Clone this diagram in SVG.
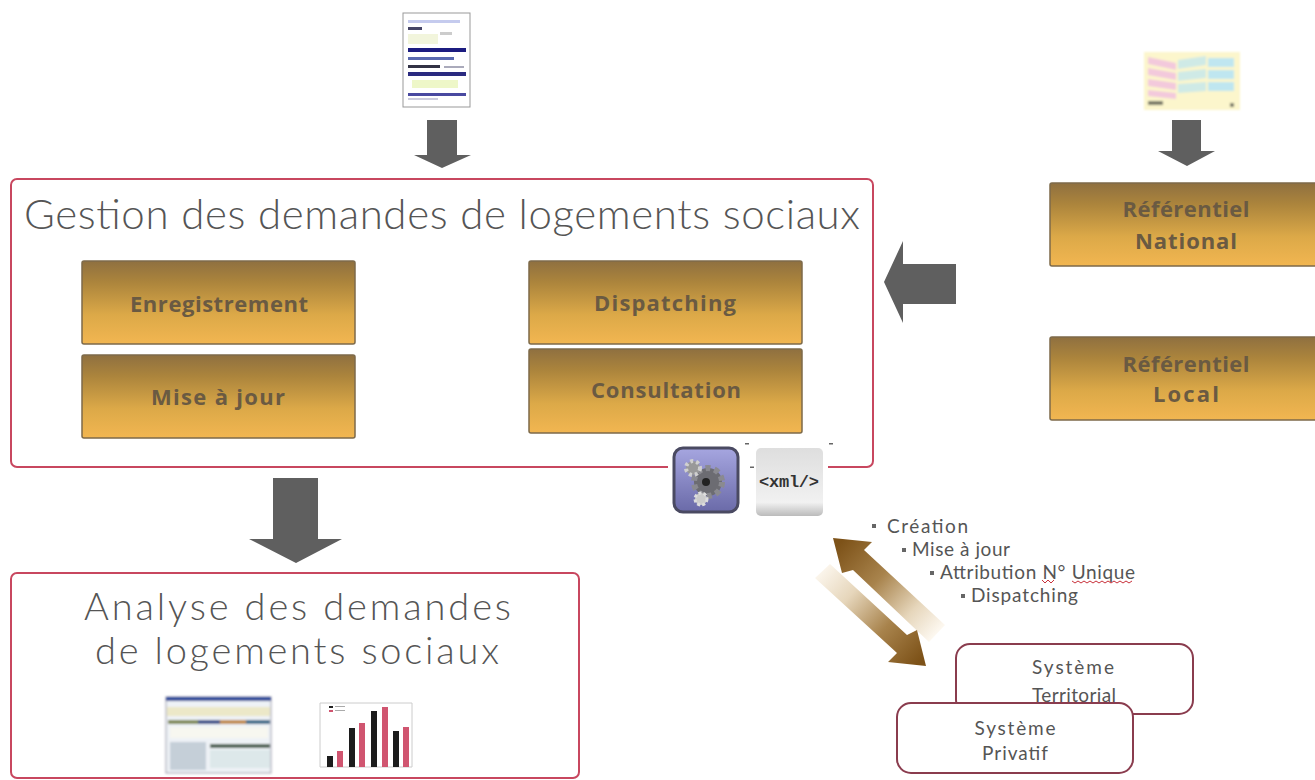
<svg xmlns="http://www.w3.org/2000/svg" width="1315" height="780" viewBox="0 0 1315 780">
<style>
.frame{fill:#fff;stroke:#c8475f;stroke-width:2}
.btn{fill:url(#gold);stroke:#7d6a4a;stroke-width:1.5}
.btxt{font-family:"Open Sans","DejaVu Sans",sans-serif;font-weight:700;font-size:22px;fill:#6a5a42;text-anchor:middle}
.head{font-family:Lato,"Open Sans",sans-serif;font-weight:300;font-size:42px;fill:#555}
.head2{font-family:Lato,"Open Sans",sans-serif;font-weight:300;font-size:38px;fill:#555}
.small{font-family:Lato,"Open Sans",sans-serif;font-size:19px;fill:#555}
.sys{fill:#fff;stroke:#8a3c4e;stroke-width:2}
.garrow{fill:#5f5f5f}
.bul{fill:#666}
</style>
<defs>
<linearGradient id="gold" x1="0" y1="0" x2="0" y2="1"><stop offset="0" stop-color="#8f7040"/><stop offset="0.25" stop-color="#ab843c"/><stop offset="0.65" stop-color="#dca948"/><stop offset="1" stop-color="#f2b651"/></linearGradient>
<linearGradient id="up" gradientUnits="userSpaceOnUse" x1="838" y1="545" x2="935" y2="635"><stop offset="0" stop-color="#7d5218"/><stop offset="0.4" stop-color="#a8834c"/><stop offset="0.75" stop-color="#e6d6bb"/><stop offset="1" stop-color="#fdf8f0"/></linearGradient>
<linearGradient id="down" gradientUnits="userSpaceOnUse" x1="820" y1="568" x2="920" y2="660"><stop offset="0" stop-color="#fdf8f0"/><stop offset="0.3" stop-color="#e6d6bb"/><stop offset="0.65" stop-color="#a8834c"/><stop offset="1" stop-color="#7d5218"/></linearGradient>
<linearGradient id="gearbg" x1="0" y1="0" x2="0" y2="1"><stop offset="0" stop-color="#a6a6e0"/><stop offset="1" stop-color="#6a6aa8"/></linearGradient>
<linearGradient id="xmlbg" x1="0" y1="0" x2="0" y2="1"><stop offset="0" stop-color="#dedede"/><stop offset="0.8" stop-color="#f1f1f1"/><stop offset="1" stop-color="#bbb"/></linearGradient>
<filter id="blur" x="-10%" y="-10%" width="120%" height="120%"><feGaussianBlur stdDeviation="1"/></filter>
<filter id="soft" x="-10%" y="-10%" width="120%" height="120%"><feGaussianBlur stdDeviation="0.7"/></filter>
</defs>
<rect width="1315" height="780" fill="#fff"/>

<g id="gestion"><rect class="frame" x="11" y="179" width="862" height="288" rx="6"/>
<text class="head" x="24" y="229" textLength="836" lengthAdjust="spacing">Gestion des demandes de logements sociaux</text></g>

<g id="enregistrement"><rect class="btn" x="82" y="261" width="273" height="83" rx="2"/><text class="btxt" x="219" y="312" textLength="178" lengthAdjust="spacing">Enregistrement</text></g>
<g id="mise-a-jour"><rect class="btn" x="82" y="355" width="273" height="83" rx="2"/><text class="btxt" x="218" y="405" textLength="134" lengthAdjust="spacing">Mise à jour</text></g>
<g id="dispatching"><rect class="btn" x="529" y="261" width="273" height="83" rx="2"/><text class="btxt" x="665" y="311" textLength="142" lengthAdjust="spacing">Dispatching</text></g>
<g id="consultation"><rect class="btn" x="529" y="349" width="273" height="84" rx="2"/><text class="btxt" x="666" y="398" textLength="150" lengthAdjust="spacing">Consultation</text></g>
<g id="ref-national"><rect class="btn" x="1050" y="183" width="270" height="83" rx="2"/><text class="btxt" x="1186" y="217" textLength="127" lengthAdjust="spacing">Référentiel</text><text class="btxt" x="1186" y="249" textLength="102" lengthAdjust="spacing">National</text></g>
<g id="ref-local"><rect class="btn" x="1050" y="337" width="270" height="83" rx="2"/><text class="btxt" x="1186" y="372" textLength="127" lengthAdjust="spacing">Référentiel</text><text class="btxt" x="1186" y="402" textLength="66" lengthAdjust="spacing">Local</text></g>

<g id="analyse"><rect class="frame" x="11" y="573" width="568" height="205" rx="6"/>
<text class="head2" x="84" y="620" textLength="427" lengthAdjust="spacing">Analyse des demandes</text>
<text class="head2" x="95" y="664" textLength="404" lengthAdjust="spacing">de logements sociaux</text></g>

<g id="connectors">
<polygon class="garrow" points="427,120 457,120 457,155 471,155 442,168 414,155 427,155"/>
<polygon class="garrow" points="1172,120 1201,120 1201,151 1215,151 1187,166 1158,151 1172,151"/>
<polygon class="garrow" points="956,264 956,304 903,304 903,323 884,282 903,241 903,264"/>
<polygon class="garrow" points="273,478 318,478 318,539 342,539 296,563 249,539 273,539"/>
<polygon fill="url(#up)" points="833,538 872,542 864,550 945,625 929,642 853,570 842,573"/>
<polygon fill="url(#down)" points="926,666 888,662 897,653 815,578 830,564 907,635 917,630"/>
</g>

<g id="doc" filter="url(#soft)">
<rect x="403" y="13" width="67" height="94" fill="#fff" stroke="#999"/>
<rect x="408" y="20" width="52" height="3" fill="#c5cbee"/>
<rect x="408" y="27" width="14" height="3" fill="#446"/>
<rect x="408" y="34" width="30" height="10" fill="#f2f5dc"/><rect x="440" y="32" width="12" height="3" fill="#ccc"/>
<rect x="408" y="48" width="58" height="4" fill="#1d1d80"/>
<rect x="408" y="57" width="46" height="3" fill="#5a6ab0"/>
<rect x="408" y="65" width="32" height="3" fill="#334"/><rect x="444" y="66" width="20" height="2" fill="#aab"/>
<rect x="408" y="72" width="58" height="4" fill="#2a2a80"/>
<rect x="412" y="80" width="46" height="8" fill="#eef7c8"/>
<rect x="408" y="93" width="58" height="3" fill="#4a4aa0"/>
<rect x="408" y="98" width="30" height="2" fill="#ccd"/>
</g>

<g id="map" filter="url(#blur)">
<rect x="1144" y="52" width="96" height="58" fill="#fcf6cc"/>
<path d="M1148 57l28 6v7l-28-6zM1148 68l28 5v7l-28-5zM1148 79l28 4v7l-28-4zM1148 90l28 3v6l-28-3z" fill="#f3c9dc"/>
<path d="M1178 60l28-4v9l-28 4zM1178 72l28-3v9l-28 3zM1178 84l28-2v9l-28 2z" fill="#cfeae6"/>
<path d="M1208 58h26v9h-26zM1208 70h26v9h-26zM1208 82h26v9h-26z" fill="#bfe6f0"/>
<rect x="1148" y="101" width="15" height="4" fill="#776"/><rect x="1230" y="103" width="4" height="4" fill="#776"/>
</g>

<g id="gear-icon">
<rect x="668" y="443" width="160" height="78" fill="#fff"/>
<rect x="674" y="448" width="64" height="64" rx="9" fill="url(#gearbg)" stroke="#4a4a62" stroke-width="3"/>
<g filter="url(#soft)"><circle cx="708" cy="482" r="14" fill="#6c6c72" stroke="#8a8a90" stroke-width="6" stroke-dasharray="5 4"/><circle cx="706" cy="482" r="4" fill="#222"/><circle cx="693" cy="468" r="7" fill="#999" stroke="#d0d0d0" stroke-width="4" stroke-dasharray="3 3"/><circle cx="701" cy="499" r="6" fill="#ccc" stroke="#ddd" stroke-width="3" stroke-dasharray="3 2"/></g>
</g>
<g id="xml-icon">
<rect x="756" y="448" width="67" height="68" rx="5" fill="url(#xmlbg)"/>
<text x="789" y="487" font-family="'Liberation Mono','DejaVu Sans Mono',monospace" font-weight="700" font-size="17" fill="#333" text-anchor="middle" textLength="60" lengthAdjust="spacing">&lt;xml/&gt;</text>
<rect x="745" y="443" width="4" height="1.500" fill="#666"/><rect x="829" y="443" width="4" height="1.500" fill="#666"/><rect x="750" y="466.500" width="4" height="1.500" fill="#666"/>
</g>

<g id="bullets">
<rect class="bul" x="872" y="524" width="4" height="4"/><text class="small" x="887" y="533" textLength="81" lengthAdjust="spacing">Création</text>
<rect class="bul" x="902" y="548" width="4" height="4"/><text class="small" x="912" y="556" textLength="98" lengthAdjust="spacing">Mise à jour</text>
<rect class="bul" x="930" y="571" width="4" height="4"/><text class="small" x="940" y="579" textLength="195" lengthAdjust="spacing">Attribution N° Unique</text>
<rect class="bul" x="961" y="594" width="4" height="4"/><text class="small" x="971" y="602" textLength="107" lengthAdjust="spacing">Dispatching</text>
<path d="M1042 580l3 3 3-3 3 3 3-3M1072 581l3 2 3-2 3 2 3-2 3 2 3-2 3 2 3-2 3 2 3-2 3 2 3-2 3 2 3-2 3 2 3-2 3 2 3-2 3 2 3-2" fill="none" stroke="#c8303a" stroke-width="1"/>
</g>

<g id="sys-territorial"><rect class="sys" x="956" y="644" width="237" height="70" rx="14"/>
<text class="small" x="1073" y="674" text-anchor="middle" textLength="82" lengthAdjust="spacing">Système</text>
<text class="small" x="1074" y="702" text-anchor="middle" textLength="84" lengthAdjust="spacing">Territorial</text></g>
<g id="sys-privatif"><rect class="sys" x="897" y="703" width="236" height="70" rx="14"/>
<text class="small" x="1015" y="735" text-anchor="middle" textLength="81" lengthAdjust="spacing">Système</text>
<text class="small" x="1015" y="760" text-anchor="middle" textLength="66" lengthAdjust="spacing">Privatif</text></g>

<g id="table" filter="url(#blur)">
<rect x="166" y="697" width="105" height="76" fill="#eef2f6" stroke="#99a"/>
<rect x="166" y="697" width="105" height="4" fill="#2a4a9a"/>
<rect x="167" y="707" width="103" height="9" fill="#ece8c8"/>
<rect x="168" y="720" width="30" height="4" fill="#7f8a55"/><rect x="198" y="720" width="22" height="4" fill="#3a4f8a"/><rect x="220" y="720" width="26" height="4" fill="#c08a4a"/><rect x="246" y="720" width="24" height="4" fill="#3a6a8a"/>
<rect x="170" y="742" width="36" height="28" fill="#c5cfd8"/>
<rect x="210" y="744" width="60" height="4" fill="#4a5f50"/>
<rect x="210" y="750" width="60" height="18" fill="#dde8ea"/>
<rect x="170" y="727" width="98" height="11" fill="#f7f7f0"/>
</g>

<g id="chart" filter="url(#soft)">
<path d="M320 703H412V767M320 703V767H412" fill="none" stroke="#ccc"/>
<rect x="327" y="756" width="6" height="11" fill="#1a1a1a"/><rect x="337" y="751" width="6" height="16" fill="#d0546f"/>
<rect x="349" y="728" width="6" height="39" fill="#1a1a1a"/><rect x="359" y="723" width="6" height="44" fill="#d0546f"/>
<rect x="371" y="711" width="6" height="56" fill="#1a1a1a"/><rect x="382" y="707" width="6" height="60" fill="#d0546f"/>
<rect x="393" y="731" width="6" height="36" fill="#1a1a1a"/><rect x="403" y="727" width="6" height="40" fill="#d0546f"/>
<rect x="329" y="706" width="4" height="2" fill="#222"/><rect x="329" y="710" width="4" height="2" fill="#d0546f"/><rect x="335" y="706" width="10" height="1" fill="#aaa"/><rect x="335" y="710" width="10" height="1" fill="#aaa"/>
</g>
</svg>
